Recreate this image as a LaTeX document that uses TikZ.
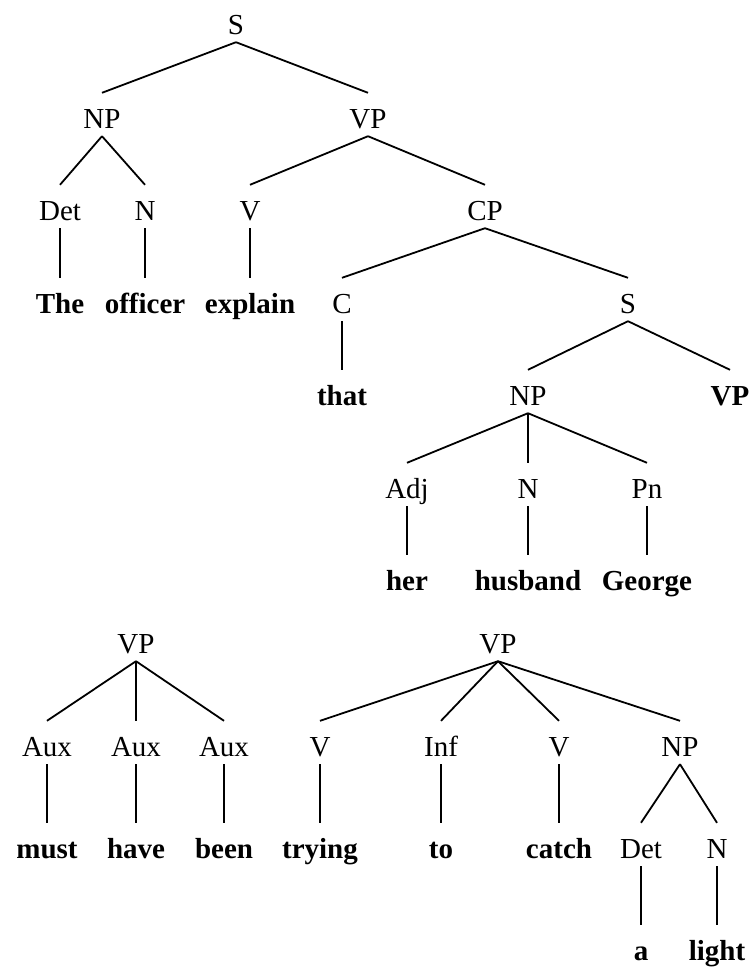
\documentclass[tikz,border=0pt]{standalone}
\usepackage{fontspec}
\setmainfont{Liberation Serif}
\begin{document}
\begin{tikzpicture}[x=1pt,y=-1pt,
  lab/.style={anchor=base,font=\fontsize{29}{31}\selectfont,text height=27pt,text depth=0pt,inner xsep=0pt,inner ysep=8pt},
  wrd/.style={lab,font=\fontsize{29}{31}\selectfont\bfseries},
  edge/.style={line width=1.8pt}]
\useasboundingbox (0,0) rectangle (750,967);
% upper tree
\node[lab] (S1) at (236,34) {S};
\node[lab] (NP1) at (102,128) {NP};
\node[lab] (VP1) at (368,128) {VP};
\node[lab] (Det1) at (60,220) {Det};
\node[lab] (N1) at (145,220) {N};
\node[lab] (V1) at (250,220) {V};
\node[lab] (CP) at (485,220) {CP};
\node[wrd] (The) at (60,313) {The};
\node[wrd] (officer) at (145,313) {officer};
\node[wrd] (explain) at (250,313) {explain};
\node[lab] (C) at (342,313) {C};
\node[lab] (S2) at (628,313) {S};
\node[wrd] (that) at (342,405) {that};
\node[lab] (NP2) at (528,405) {NP};
\node[wrd] (VPb) at (730,405) {VP};
\node[lab] (Adj) at (407,498) {Adj};
\node[lab] (N2) at (528,498) {N};
\node[lab] (Pn) at (647,498) {Pn};
\node[wrd] (her) at (407,590) {her};
\node[wrd] (husband) at (528,590) {husband};
\node[wrd] (George) at (647,590) {George};
\foreach \p/\c in {S1/NP1,S1/VP1,NP1/Det1,NP1/N1,VP1/V1,VP1/CP,Det1/The,N1/officer,V1/explain,
  CP/C,CP/S2,C/that,S2/NP2,S2/VPb,NP2/Adj,NP2/N2,NP2/Pn,Adj/her,N2/husband,Pn/George}
  \draw[edge] (\p.south) -- (\c.north);
% lower left tree
\node[lab] (VP3) at (136,653) {VP};
\node[lab] (Aux1) at (47,756) {Aux};
\node[lab] (Aux2) at (136,756) {Aux};
\node[lab] (Aux3) at (224,756) {Aux};
\node[wrd] (must) at (47,858) {must};
\node[wrd] (have) at (136,858) {have};
\node[wrd] (been) at (224,858) {been};
% lower right tree
\node[lab] (VP4) at (498,653) {VP};
\node[lab] (V2) at (320,756) {V};
\node[lab] (Inf) at (441,756) {Inf};
\node[lab] (V3) at (559,756) {V};
\node[lab] (NP3) at (680,756) {NP};
\node[wrd] (trying) at (320,858) {trying};
\node[wrd] (to) at (441,858) {to};
\node[wrd] (catch) at (559,858) {catch};
\node[lab] (Det2) at (641,858) {Det};
\node[lab] (N3) at (717,858) {N};
\node[wrd] (a) at (641,960) {a};
\node[wrd] (light) at (717,960) {light};
\foreach \p/\c in {VP3/Aux1,VP3/Aux2,VP3/Aux3,Aux1/must,Aux2/have,Aux3/been,
  VP4/V2,VP4/Inf,VP4/V3,VP4/NP3,V2/trying,Inf/to,V3/catch,NP3/Det2,NP3/N3,Det2/a,N3/light}
  \draw[edge] (\p.south) -- (\c.north);
\end{tikzpicture}
\end{document}
